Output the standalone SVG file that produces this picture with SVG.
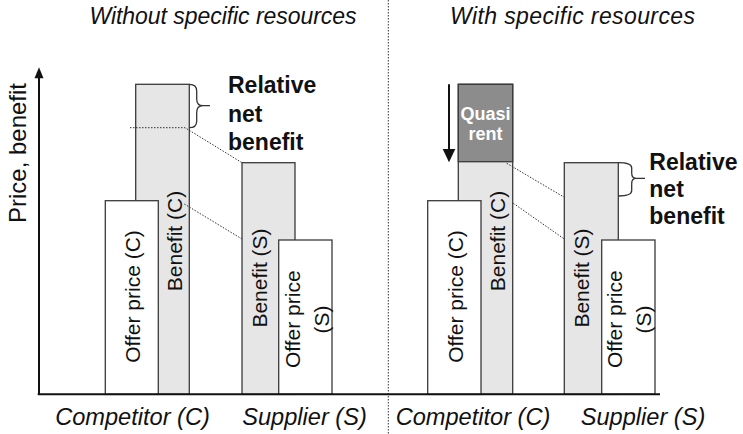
<svg xmlns="http://www.w3.org/2000/svg" width="743" height="434" viewBox="0 0 743 434">
  <style>
    .bar { stroke: #3a3a3a; stroke-width: 1.3; }
    .light { fill: #e6e6e6; }
    .white { fill: #ffffff; }
    .dark { fill: #8c8c8c; }
    .axis { stroke: #111111; stroke-width: 2; fill: none; }
    .dot { stroke: #333333; stroke-width: 1; stroke-dasharray: 1.5 1.5; fill: none; }
    .brace { stroke: #333333; stroke-width: 1.3; fill: none; }
    .t { font-family: "Liberation Sans", Arial, sans-serif; fill: #111111; }
    .bar-label { font-size: 21px; text-anchor: middle; }
    .title { font-size: 23px; font-style: italic; text-anchor: middle; }
    .cat { font-size: 23.6px; font-style: italic; text-anchor: middle; }
    .note { font-size: 23px; font-weight: bold; }
    .quasi { font-size: 18px; font-weight: bold; fill: #ffffff; text-anchor: middle; }
  </style>

  <rect width="743" height="434" fill="#ffffff"/>

  <!-- panel titles -->
  <g id="titles">
    <text class="t title" x="223" y="24" textLength="267">Without specific resources</text>
    <text class="t title" x="572.5" y="24" textLength="245">With specific resources</text>
  </g>

  <!-- left panel: competitor -->
  <g id="benefit-c-left">
    <rect class="bar light" x="135.7" y="84.3" width="53.6" height="310"/>
    <text class="t bar-label" transform="translate(181.5,241) rotate(-90)">Benefit (C)</text>
  </g>
  <g id="offer-c-left">
    <rect class="bar white" x="105.3" y="200.7" width="53" height="193.7"/>
    <text class="t bar-label" transform="translate(139.6,296.5) rotate(-90)">Offer price (C)</text>
  </g>

  <!-- left panel: supplier -->
  <g id="benefit-s-left">
    <rect class="bar light" x="242" y="162.7" width="53" height="231.7"/>
    <text class="t bar-label" transform="translate(266.5,278) rotate(-90)">Benefit (S)</text>
  </g>
  <g id="offer-s-left">
    <rect class="bar white" x="278.7" y="240" width="53.3" height="154.3"/>
    <text class="t bar-label" transform="translate(300.2,319.2) rotate(-90)">Offer price</text>
    <text class="t bar-label" transform="translate(328.5,319.5) rotate(-90)">(S)</text>
  </g>

  <g id="note-left">
    <text class="t note" x="228" y="93">Relative</text>
    <text class="t note" x="228" y="122">net</text>
    <text class="t note" x="228" y="149.5">benefit</text>
  </g>

  <!-- right panel: competitor with quasi rent -->
  <g id="benefit-c-right">
    <rect class="bar light" x="458.3" y="84.3" width="54.4" height="310"/>
    <text class="t bar-label" transform="translate(505,241) rotate(-90)">Benefit (C)</text>
  </g>
  <g id="quasi-rent">
    <rect class="bar dark" x="458.3" y="84.3" width="54.4" height="77.4"/>
    <text class="t quasi" x="485.5" y="120">Quasi</text>
    <text class="t quasi" x="485.5" y="140">rent</text>
  </g>
  <g id="offer-c-right">
    <rect class="bar white" x="427.7" y="200.7" width="53.3" height="193.7"/>
    <text class="t bar-label" transform="translate(462.6,296.5) rotate(-90)">Offer price (C)</text>
  </g>

  <!-- right panel: supplier -->
  <g id="benefit-s-right">
    <rect class="bar light" x="564.3" y="162.7" width="54" height="231.7"/>
    <text class="t bar-label" transform="translate(589,278) rotate(-90)">Benefit (S)</text>
  </g>
  <g id="offer-s-right">
    <rect class="bar white" x="601.7" y="240" width="53.3" height="154.3"/>
    <text class="t bar-label" transform="translate(621.7,319.2) rotate(-90)">Offer price</text>
    <text class="t bar-label" transform="translate(651,319.5) rotate(-90)">(S)</text>
  </g>

  <g id="note-right">
    <text class="t note" x="649.3" y="170">Relative</text>
    <text class="t note" x="649.3" y="197">net</text>
    <text class="t note" x="649.3" y="224">benefit</text>
  </g>

  <!-- connectors: dotted guides, braces, divider, shift arrow -->
  <g id="connectors">
    <path class="dot" d="M388.3,0 V434"/>
    <path class="dot" d="M130,127.7 H185 L242,162.7"/>
    <path class="dot" d="M184.3,204 L242,239"/>
    <path class="dot" d="M506.7,163.3 L564.3,197.3"/>
    <path class="dot" d="M513.3,203.3 L564.3,239"/>
    <path class="brace" d="M189.3,84.3 Q196.7,84.3 196.7,91 V99 Q196.7,105.7 203,105.7 H210 M203,105.7 Q196.7,105.7 196.7,112.4 V121 Q196.7,127.7 189.3,127.7"/>
    <path class="brace" d="M618.3,162.7 Q631.7,162.7 631.7,168 V173 Q631.7,178.3 636,178.3 H645 M636,178.3 Q631.7,178.3 631.7,183.6 V190.5 Q631.7,196 618.3,196"/>
    <line class="axis" x1="449" y1="84.3" x2="449" y2="150"/>
    <polygon points="442.7,149 455.3,149 449,162.3" fill="#111111"/>
  </g>

  <!-- axes -->
  <g id="axes">
    <line class="axis" x1="37.7" y1="394.3" x2="660" y2="394.3"/>
    <line class="axis" x1="39" y1="395" x2="39" y2="77"/>
    <polygon points="34.5,78.3 39,67.3 43.5,78.3" fill="#111111"/>
    <text class="t" font-size="24" text-anchor="middle" textLength="140" transform="translate(25.5,153) rotate(-90)">Price, benefit</text>
  </g>

  <!-- category labels -->
  <g id="categories">
    <text class="t cat" x="132.5" y="424.5">Competitor (C)</text>
    <text class="t cat" x="304.5" y="424.5">Supplier (S)</text>
    <text class="t cat" x="473" y="424.5">Competitor (C)</text>
    <text class="t cat" x="643" y="424.5">Supplier (S)</text>
  </g>
</svg>
